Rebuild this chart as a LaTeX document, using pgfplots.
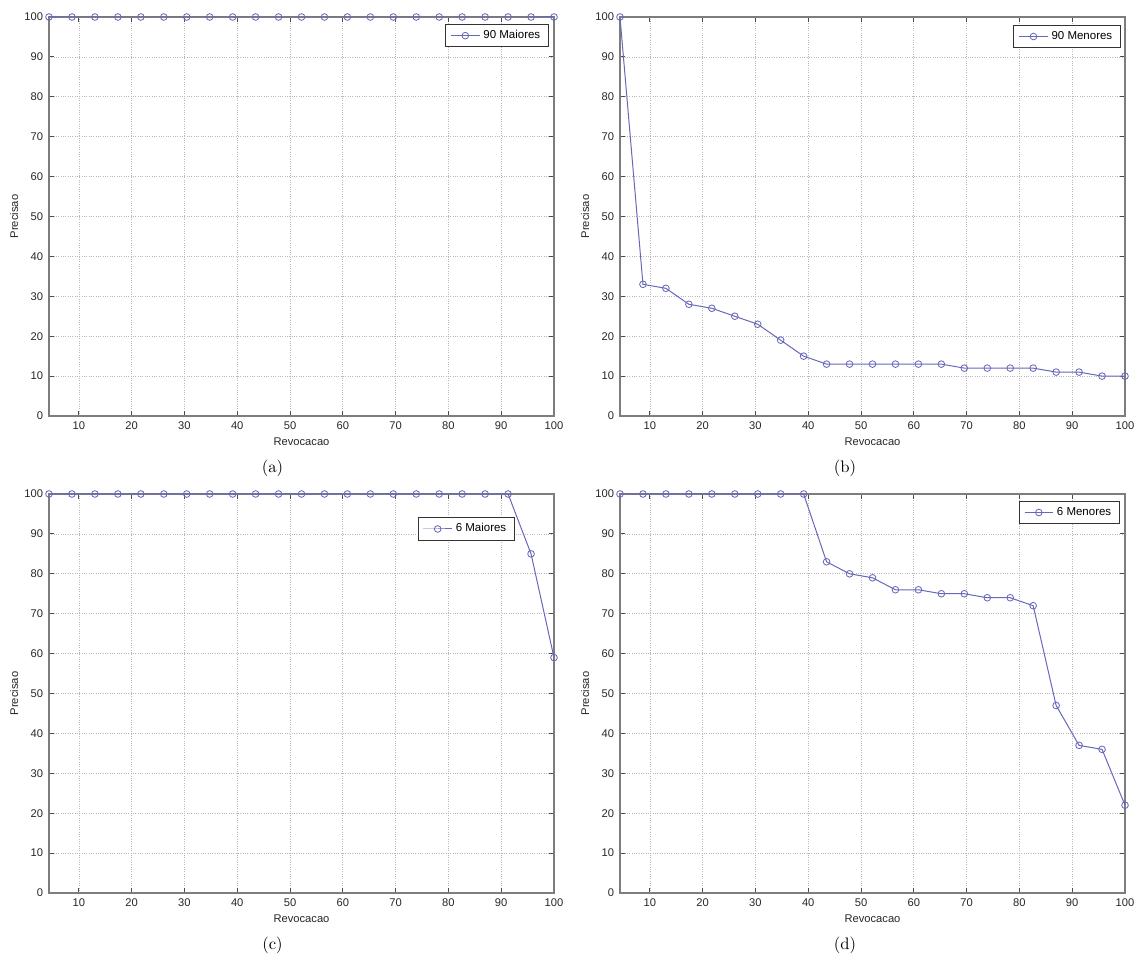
\documentclass[border=0pt]{standalone}
\usepackage{fontspec}
\usepackage{pgfplots}
\pgfplotsset{compat=1.18}
\newfontfamily\arial{Liberation Sans}
\definecolor{ln}{RGB}{104,104,186}
\definecolor{fr}{RGB}{125,125,125}

\pgfplotstableread{
x a b c d
4.3478 100 100 100 100
8.6957 100 33 100 100
13.043 100 32 100 100
17.391 100 28 100 100
21.739 100 27 100 100
26.087 100 25 100 100
30.435 100 23 100 100
34.783 100 19 100 100
39.130 100 15 100 100
43.478 100 13 100 83
47.826 100 13 100 80
52.174 100 13 100 79
56.522 100 13 100 76
60.870 100 13 100 76
65.217 100 13 100 75
69.565 100 12 100 75
73.913 100 12 100 74
78.261 100 12 100 74
82.609 100 12 100 72
86.957 100 11 100 47
91.304 100 11 100 37
95.652 100 10 85 36
100.00 100 10 59 22
}\data

\pgfplotsset{
  mstyle/.style={
    scale only axis, width=303pt, height=239.4pt, anchor=south west,
    xmin=4.3478, xmax=100, ymin=0, ymax=100,
    xtick={10,20,...,100}, ytick={0,10,...,100},
    grid=major, grid style={densely dotted, black!28, line width=0.4pt},
    axis line style={fr, line width=0.9pt},
    tick align=inside, major tick length=3pt,
    tick style={black!70, line width=0.5pt},
    ticklabel style={font=\arial\fontsize{6.7}{8}\selectfont, text=black!85},
    /pgf/number format/assume math mode=true,
    xlabel={Revocacao}, ylabel={Precisao},
    label style={font=\arial\fontsize{6.7}{8}\selectfont, text=black!85},
    xlabel style={at={(axis description cs:0.5,-0.065)}, anchor=center},
    ylabel style={at={(axis description cs:-0.069,0.5)}, anchor=center},
    clip=false,
    legend cell align=left,
    legend style={draw=black!80, fill=white, line width=0.5pt,
      font=\arial\fontsize{6.9}{8}\selectfont, inner xsep=3pt, inner ysep=1.5pt,
      anchor=north east},
  },
  pl/.style={color=ln, line width=0.6pt, mark=o, mark size=2pt,
    mark options={line width=0.5pt}},
}

\begin{document}
\begin{tikzpicture}
\useasboundingbox (0,0) rectangle (681pt,-574.8pt);
\begin{axis}[mstyle, at={(29.4pt,-249.6pt)},
  legend style={at={(1,1)}, xshift=-3pt, yshift=-4.2pt}]
  \addplot[pl] table[x=x,y=a] {\data};
  \addlegendentry{90 Maiores}
\end{axis}
\begin{axis}[mstyle, at={(372pt,-249.6pt)},
  legend style={at={(1,1)}, xshift=-2.4pt, yshift=-4.8pt}]
  \addplot[pl] table[x=x,y=b] {\data};
  \addlegendentry{90 Menores}
\end{axis}
\begin{axis}[mstyle, at={(29.4pt,-535.8pt)},
  legend style={at={(1,1)}, xshift=-23.4pt, yshift=-14pt}]
  \addplot[pl] table[x=x,y=c] {\data};
  \addlegendentry{6 Maiores}
\end{axis}
\begin{axis}[mstyle, at={(372pt,-535.8pt)},
  legend style={at={(1,1)}, xshift=-3pt, yshift=-4.2pt}]
  \addplot[pl] table[x=x,y=d] {\data};
  \addlegendentry{6 Menores}
\end{axis}
\node[anchor=center] at (163.5pt,-280.8pt) {(a)};
\node[anchor=center] at (507pt,-280.8pt) {(b)};
\node[anchor=center] at (163.5pt,-567pt) {(c)};
\node[anchor=center] at (507pt,-567pt) {(d)};
\end{tikzpicture}
\end{document}
